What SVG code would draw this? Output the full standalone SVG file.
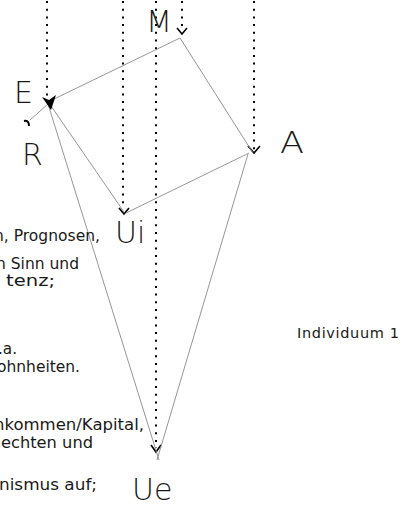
<svg xmlns="http://www.w3.org/2000/svg" width="409" height="506" viewBox="0 0 409 506">
<defs>
<style>
.big{font-family:"DejaVu Sans","Liberation Sans",sans-serif;font-weight:200;font-size:30px;fill:#1a1a1a}
.txt{font-family:"DejaVu Sans","Liberation Sans",sans-serif;font-size:15px;fill:#1a1a1a}
.dot{stroke:#000;stroke-width:2;stroke-dasharray:2 5.7;fill:none}
.ln{stroke:#8a8a8a;stroke-width:0.9;fill:none}
.vee{stroke:#000;stroke-width:1.6;fill:none}
</style>
</defs>
<rect width="409" height="506" fill="#fff"/>
<g id="connectors">
<line class="dot" x1="47" y1="1" x2="47" y2="96"/>
<line class="dot" x1="123" y1="1" x2="123" y2="209"/>
<line class="dot" x1="156" y1="1" x2="156" y2="448"/>
<line class="dot" x1="182" y1="1" x2="182" y2="30"/>
<line class="dot" x1="254" y1="1" x2="254" y2="150"/>
<polyline class="vee" points="119,208 124,214 129,208"/>
<polyline class="vee" points="151,445 156,452 161,445"/>
<polyline class="vee" points="177,28 182,34 187,28"/>
<polyline class="vee" points="248,146 254,153 260,146"/>
<line class="ln" x1="180" y1="38" x2="52" y2="100"/>
<line class="ln" x1="180" y1="38" x2="253" y2="153"/>
<line class="ln" x1="249" y1="153" x2="126" y2="213"/>
<line class="ln" x1="49" y1="103" x2="124" y2="212"/>
<line class="ln" x1="48" y1="104" x2="159" y2="460"/>
<line class="ln" x1="248" y1="154" x2="157" y2="460"/>
<line class="ln" x1="48" y1="104" x2="30" y2="120"/>
<path d="M42,97 L49,100 L56,95 L51,110 Z" fill="#000"/>
<path d="M24,121 Q29,120 29,126" stroke="#000" stroke-width="2" fill="none"/>
</g>
<g id="node-M"><text class="big" x="146" y="32" textLength="26" lengthAdjust="spacingAndGlyphs">M</text></g>
<g id="node-E"><text class="big" x="14" y="103">E</text></g>
<g id="node-R"><text class="big" x="22" y="165">R</text></g>
<g id="node-A"><text class="big" x="280" y="153" textLength="24" lengthAdjust="spacingAndGlyphs">A</text></g>
<g id="node-Ui"><text class="big" x="115" y="243">Ui</text></g>
<g id="node-Ue"><text class="big" x="132" y="500">Ue</text></g>
<g id="individuum"><text x="297" y="338" font-family="DejaVu Sans, Liberation Sans, sans-serif" font-size="14.5" fill="#1a1a1a" textLength="102">Individuum 1</text></g>
<g id="left-text">
<text class="txt" x="-6" y="241" textLength="106" lengthAdjust="spacingAndGlyphs">n, Prognosen,</text>
<text class="txt" x="-4" y="269" textLength="83" lengthAdjust="spacingAndGlyphs">n Sinn und</text>
<text class="txt" x="6" y="286" textLength="49" lengthAdjust="spacingAndGlyphs">tenz;</text>
<text class="txt" x="-2" y="354" textLength="19" lengthAdjust="spacingAndGlyphs">.a.</text>
<text class="txt" x="-3" y="372" textLength="83" lengthAdjust="spacingAndGlyphs">ohnheiten.</text>
<text class="txt" x="-6" y="430" textLength="150" lengthAdjust="spacingAndGlyphs">nkommen/Kapital,</text>
<text class="txt" x="1" y="448" textLength="92" lengthAdjust="spacingAndGlyphs">echten und</text>
<text class="txt" x="-1" y="490" textLength="98" lengthAdjust="spacingAndGlyphs">nismus auf;</text>
</g>
</svg>
